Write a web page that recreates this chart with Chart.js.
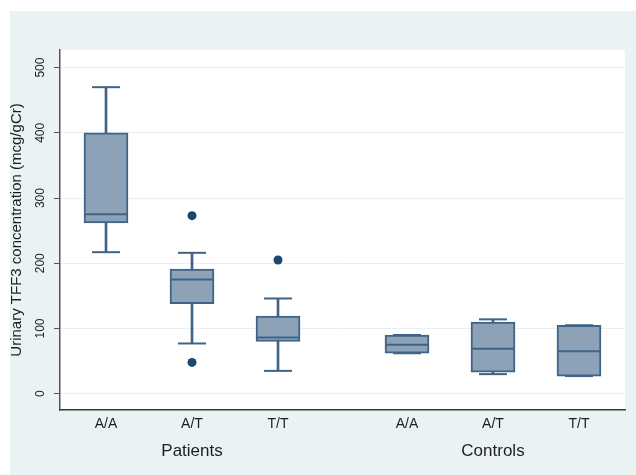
<!DOCTYPE html>
<html>
<head>
<meta charset="utf-8">
<script src="https://cdn.jsdelivr.net/npm/chart.js@4.4.1/dist/chart.umd.min.js"></script>
<style>
  html, body { margin: 0; padding: 0; background: #ffffff; }
  #wrap { width: 636px; height: 475px; position: relative; }
</style>
</head>
<body>
<div id="wrap"><canvas id="c" width="636" height="475"></canvas></div>
<script>
// ---- Data ----
const genotypes = ['A/A', 'A/T', 'T/T', 'A/A', 'A/T', 'T/T'];
const groupNames = ['Patients', 'Controls'];
const slots = [1, 2, 3, 4.5, 5.5, 6.5];          // category slots (gap between groups)
const groupSlots = [2, 5.5];
const whiskerLow  = [217, 77, 35, 62, 30, 27];
const q1          = [262, 138, 80, 62, 33, 27];
const medians     = [275, 175, 86, 75, 69, 65];
const q3          = [400, 191, 119, 90, 110, 105];
const whiskerHigh = [470, 216, 146, 90, 114, 105];
const outlierSlot  = [2, 2, 3];
const outlierValue = [273, 48, 205];
const yTicks = [0, 100, 200, 300, 400, 500];

// ---- Styles ----
const boxFill = '#8da2b7';
const lineCol = '#3f6487';
const dotCol = '#1a476f';
const outerBg = '#eaf2f3';

const bgPlugin = {
  id: 'bg',
  beforeDraw(chart) {
    const { ctx, chartArea: a } = chart;
    ctx.save();
    ctx.fillStyle = '#ffffff';
    ctx.fillRect(0, 0, chart.width, chart.height);
    ctx.fillStyle = outerBg;
    ctx.fillRect(10, 11, chart.width - 10, chart.height - 11);
    ctx.fillStyle = '#ffffff';
    ctx.fillRect(a.left, a.top, a.right - a.left, a.bottom - a.top);
    ctx.restore();
  }
};

const xMin = 0.465, xMax = 7.035;
const noEndPadding = (scale, h) => { scale.height = h; scale.paddingLeft = 0; scale.paddingRight = 0; };

new Chart(document.getElementById('c'), {
  type: 'bar',
  data: {
    datasets: [
      {
        type: 'scatter', label: 'outliers', order: 0,
        data: outlierSlot.map((s, i) => ({ x: s, y: outlierValue[i] })),
        pointStyle: 'circle', pointRadius: 4.5, backgroundColor: dotCol, borderWidth: 0,
        xAxisID: 'x', yAxisID: 'y'
      },
      {
        type: 'scatter', label: 'medians', order: 1,
        data: slots.map((s, i) => ({ x: s, y: medians[i] })),
        pointStyle: 'line', pointRadius: 22, borderColor: lineCol, borderWidth: 2,
        xAxisID: 'x', yAxisID: 'y'
      },
      {
        type: 'bar', label: 'boxes', order: 2, grouped: false,
        data: slots.map((s, i) => ({ x: s, y: [q1[i], q3[i]] })),
        backgroundColor: boxFill, borderColor: lineCol, borderWidth: 2,
        borderSkipped: false, barThickness: 44,
        xAxisID: 'x', yAxisID: 'y'
      },
      {
        type: 'scatter', label: 'caps', order: 3,
        data: slots.map((s, i) => ({ x: s, y: whiskerHigh[i] }))
          .concat(slots.map((s, i) => ({ x: s, y: whiskerLow[i] }))),
        pointStyle: 'line', pointRadius: 14, borderColor: lineCol, borderWidth: 2,
        xAxisID: 'x', yAxisID: 'y'
      },
      {
        type: 'bar', label: 'whiskers', order: 4, grouped: false,
        data: slots.map((s, i) => ({ x: s, y: [whiskerLow[i], whiskerHigh[i]] })),
        backgroundColor: lineCol, borderWidth: 0, barThickness: 2,
        xAxisID: 'x', yAxisID: 'y'
      }
    ]
  },
  options: {
    responsive: false,
    animation: false,
    events: [],
    layout: { autoPadding: false, padding: { left: 8, top: 50, right: 11, bottom: 6 } },
    plugins: { legend: { display: false }, tooltip: { enabled: false } },
    scales: {
      x: {
        type: 'linear', position: 'bottom', weight: 0,
        min: xMin, max: xMax, offset: false,
        afterBuildTicks(scale) { scale.ticks = slots.map(v => ({ value: v })); },
        afterFit(scale) { noEndPadding(scale, 28); },
        grid: { display: false, drawTicks: false },
        border: { display: true, color: '#3a3a3a', width: 1.5 },
        ticks: {
          autoSkip: false, maxRotation: 0, padding: 6,
          color: '#1e1e1e', font: { family: 'Liberation Sans, Arial, sans-serif', size: 14 },
          callback: (v, i) => genotypes[i]
        }
      },
      xg: {
        type: 'linear', position: 'bottom', weight: 1,
        min: xMin, max: xMax, offset: false,
        afterBuildTicks(scale) { scale.ticks = groupSlots.map(v => ({ value: v })); },
        afterFit(scale) { noEndPadding(scale, 31); },
        grid: { display: false, drawTicks: false },
        border: { display: false },
        ticks: {
          autoSkip: false, maxRotation: 0, padding: 3,
          color: '#1e1e1e', font: { family: 'Liberation Sans, Arial, sans-serif', size: 17 },
          callback: (v, i) => groupNames[i]
        }
      },
      y: {
        type: 'linear', position: 'left',
        min: -25, max: 527,
        afterBuildTicks(scale) { scale.ticks = yTicks.map(v => ({ value: v })); },
        afterFit(scale) { scale.width = 52; scale.paddingTop = 0; scale.paddingBottom = 0; },
        grid: { color: '#e8eff2', lineWidth: 1, tickColor: '#555', tickLength: 6, drawTicks: true },
        border: { display: true, color: '#555', width: 1.5 },
        ticks: {
          minRotation: 90, maxRotation: 90, crossAlign: 'center', padding: 3,
          color: '#1e1e1e', font: { family: 'Liberation Sans, Arial, sans-serif', size: 12 }
        },
        title: {
          display: true, text: 'Urinary TFF3 concentration (mcg/gCr)',
          color: '#1e1e1e', padding: { top: 0, bottom: 0 },
          font: { family: 'Liberation Sans, Arial, sans-serif', size: 15 }
        }
      }
    }
  },
  plugins: [bgPlugin]
});
</script>
</body>
</html>
